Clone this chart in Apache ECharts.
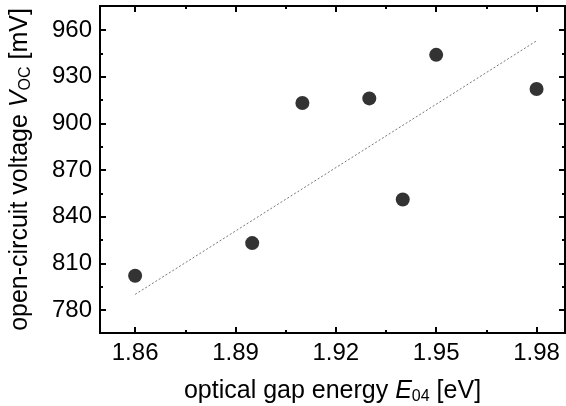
<!DOCTYPE html>
<html><head><meta charset="utf-8">
<script src="https://cdn.jsdelivr.net/npm/echarts@6/dist/echarts.min.js"></script>
<style>html,body{margin:0;padding:0;background:#fff}#c{width:566px;height:406px}</style>
</head><body><div id="c"></div>
<script>
const gapEnergy = [1.86, 1.895, 1.91, 1.93, 1.94, 1.95, 1.98];
const vocValues = [802, 823, 913, 916, 851, 944, 922];
const fitX = [1.86, 1.98];
const fitY = [790, 953];
const xMajorTicks = [1.86, 1.89, 1.92, 1.95, 1.98];
const xMinorTicks = [1.875, 1.905, 1.935, 1.965];
const yMajorTicks = [780, 810, 840, 870, 900, 930, 960];
const yMinorTicks = [795, 825, 855, 885, 915, 945];

const FONT = 'Liberation Sans';
const XMIN = 1.8495, XMAX = 1.9885, YMIN = 765.2, YMAX = 975.4;
const LBL = 24, TTL = 25, SUB = 16;

function mkX(pos, ticks, len, labels, extra) {
  return Object.assign({
    type: 'value', position: pos, min: XMIN, max: XMAX,
    axisLine: { show: true, onZero: false, lineStyle: { color: '#000', width: 2 } },
    axisTick: { show: true, inside: true, length: len, customValues: ticks, lineStyle: { color: '#000', width: 2 } },
    axisLabel: labels ? { show: true, customValues: ticks, formatter: v => v.toFixed(2), color: '#000', fontFamily: FONT, fontSize: LBL, margin: 8 } : { show: false },
    splitLine: { show: false }
  }, extra || {});
}
function mkY(pos, ticks, len, labels, extra) {
  return Object.assign({
    type: 'value', position: pos, min: YMIN, max: YMAX,
    axisLine: { show: true, onZero: false, lineStyle: { color: '#000', width: 2 } },
    axisTick: { show: true, inside: true, length: len, customValues: ticks, lineStyle: { color: '#000', width: 2 } },
    axisLabel: labels ? { show: true, customValues: ticks, formatter: v => String(Math.round(v)), color: '#000', fontFamily: FONT, fontSize: LBL, margin: 8 } : { show: false },
    splitLine: { show: false }
  }, extra || {});
}
const rich = {
  i: { fontStyle: 'italic', fontFamily: FONT, fontSize: TTL, color: '#000' },
  sub: { fontFamily: FONT, fontSize: SUB, color: '#000', padding: [12, 0, 0, 0] }
};

const chart = echarts.init(document.getElementById('c'), null, { renderer: 'canvas' });
chart.setOption({
  animation: false,
  backgroundColor: '#fff',
  grid: { left: 100, right: 1, top: 6, bottom: 73, containLabel: false, outerBoundsMode: 'none' },
  xAxis: [
    mkX('bottom', xMajorTicks, 6, true, {
      name: 'optical gap energy {i|E}{sub|04} [eV]', nameLocation: 'middle', nameGap: 44,
      nameTextStyle: { color: '#000', fontFamily: FONT, fontSize: TTL, rich: rich }
    }),
    mkX('bottom', xMinorTicks, 3, false),
    mkX('top', xMajorTicks, 6, false),
    mkX('top', xMinorTicks, 3, false)
  ],
  yAxis: [
    mkY('left', yMajorTicks, 6, true, {
      name: 'open-circuit voltage {i|V}{sub|OC} [mV]', nameLocation: 'middle', nameGap: 66,
      nameTextStyle: { color: '#000', fontFamily: FONT, fontSize: TTL, rich: rich }
    }),
    mkY('left', yMinorTicks, 3, false),
    mkY('right', yMajorTicks, 6, false),
    mkY('right', yMinorTicks, 3, false)
  ],
  series: [
    {
      type: 'line', xAxisIndex: 0, yAxisIndex: 0,
      data: fitX.map((x, i) => [x, fitY[i]]),
      symbol: 'none', lineStyle: { color: '#777', width: 1, type: [2, 2] }, z: 1
    },
    {
      type: 'scatter', xAxisIndex: 0, yAxisIndex: 0,
      data: gapEnergy.map((x, i) => [x, vocValues[i]]),
      symbol: 'circle', symbolSize: 14, itemStyle: { color: '#000' }, z: 3
    }
  ]
});
</script></body></html>
